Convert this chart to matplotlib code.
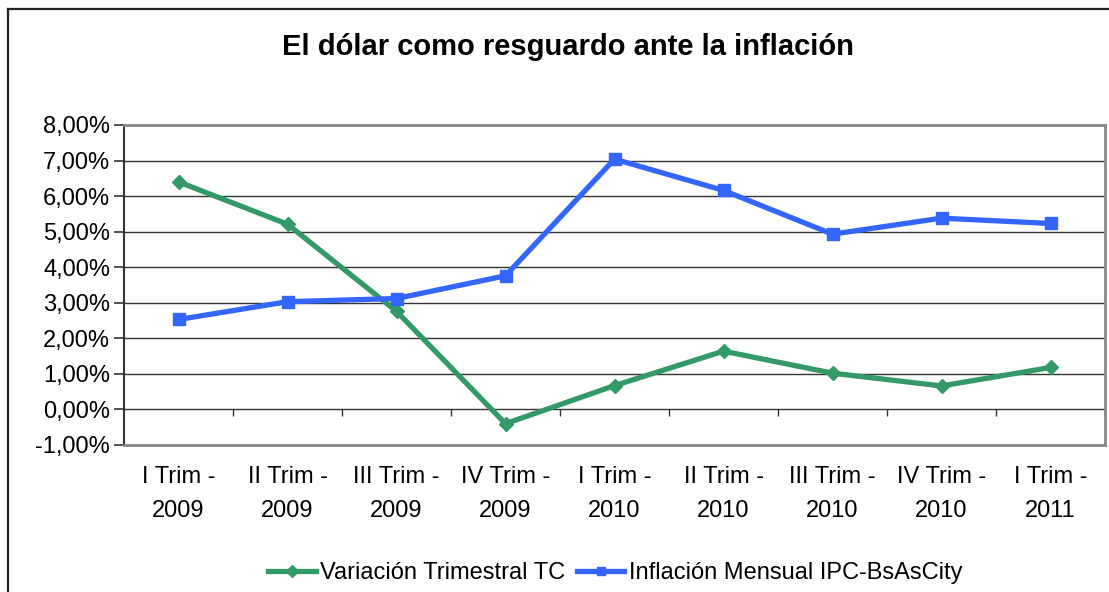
import matplotlib.pyplot as plt
from matplotlib.lines import Line2D

plt.rcParams['font.family'] = ['Liberation Sans', 'DejaVu Sans']

CATEGORIES = ['I Trim -\n2009', 'II Trim -\n2009', 'III Trim -\n2009', 'IV Trim -\n2009',
              'I Trim -\n2010', 'II Trim -\n2010', 'III Trim -\n2010', 'IV Trim -\n2010',
              'I Trim -\n2011']
VARIACION_TC = [6.40, 5.21, 2.76, -0.40, 0.67, 1.64, 1.02, 0.66, 1.18]
INFLACION_IPC = [2.53, 3.03, 3.12, 3.76, 7.04, 6.16, 4.93, 5.38, 5.23]
Y_TICKS = [-1, 0, 1, 2, 3, 4, 5, 6, 7, 8]

GREEN = '#339966'
BLUE = '#3366FF'

fig = plt.figure(figsize=(11.09, 5.92), dpi=100)
ax = fig.add_axes([124 / 1109, 1 - 445 / 592, 981 / 1109, 320 / 592])

# outer chart frame (only left and top edges fall inside the crop)
fx, fy = 8 / 1109, 1 - 9 / 592
fig.add_artist(Line2D([fx, 1.0], [fy, fy], transform=fig.transFigure, color='#222222', linewidth=1.6))
fig.add_artist(Line2D([fx, fx], [0.0, fy], transform=fig.transFigure, color='#222222', linewidth=1.6))

x = list(range(len(CATEGORIES)))

for yv in Y_TICKS[1:]:
    ax.axhline(yv, color='#333333', linewidth=1.0, zorder=1)

ax.plot(x, VARIACION_TC, color=GREEN, linewidth=3.8, marker='D', markersize=7.5,
        label='Variación Trimestral TC', zorder=3)
ax.plot(x, INFLACION_IPC, color=BLUE, linewidth=3.8, marker='s', markersize=8,
        label='Inflación Mensual IPC-BsAsCity', zorder=3)

# category boundary ticks hanging from the zero line
ax.vlines([k + 0.5 for k in range(len(CATEGORIES))], -0.19, 0, color='#333333', linewidth=1.0, zorder=2)

ax.set_xlim(-0.5, len(CATEGORIES) - 0.5)
ax.set_ylim(-1, 8)
ax.set_yticks(Y_TICKS)
ax.set_yticklabels([('%.2f%%' % v).replace('.', ',') for v in Y_TICKS])
ax.set_xticks(x)
ax.set_xticklabels(CATEGORIES, linespacing=1.7)
ax.tick_params(axis='x', length=0, pad=15, labelsize=17)
ax.tick_params(axis='y', length=7, width=1.2, color='#333333', pad=3, labelsize=17)

for side in ['top', 'right', 'bottom']:
    ax.spines[side].set_color('#888888')
    ax.spines[side].set_linewidth(2)
ax.spines['left'].set_color('#333333')
ax.spines['left'].set_linewidth(1.5)

fig.text(0.512, 0.921, 'El dólar como resguardo ante la inflación', ha='center', va='center',
         fontsize=21, fontweight='bold')

handles = [Line2D([], [], color=GREEN, linewidth=3.8, marker='D', markersize=6),
           Line2D([], [], color=BLUE, linewidth=3.8, marker='s', markersize=6)]
fig.legend(handles, ['Variación Trimestral TC', 'Inflación Mensual IPC-BsAsCity'],
           loc='center', bbox_to_anchor=(0.555, 1 - 573 / 592), ncol=2, frameon=False,
           fontsize=17, handlelength=2.0, handletextpad=0.2, columnspacing=0.5)

fig.savefig('out.png', dpi=100)
